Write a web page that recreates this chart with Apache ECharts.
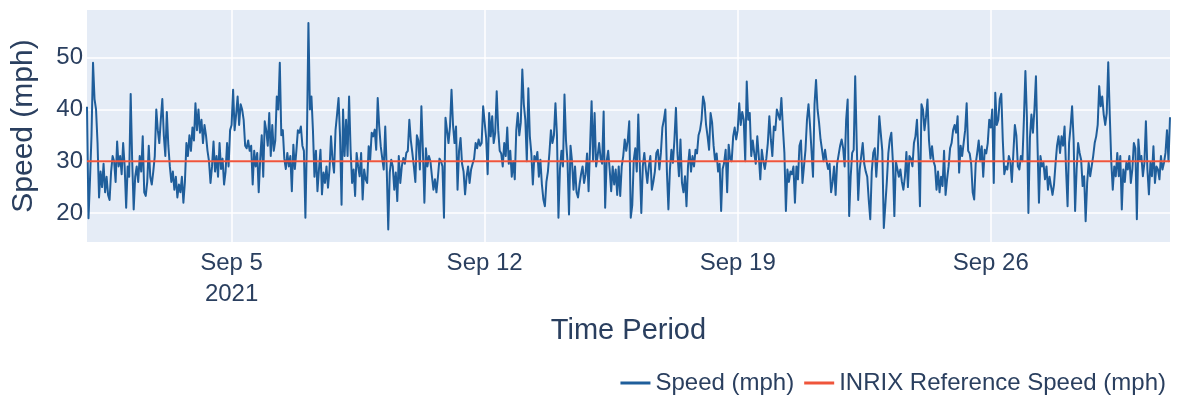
<!DOCTYPE html>
<html>
<head>
<meta charset="utf-8">
<script src="https://cdn.jsdelivr.net/npm/echarts@6/dist/echarts.min.js"></script>
<style>
html,body{margin:0;padding:0;background:#fff;}
#chart{width:1177px;height:402px;}
</style>
</head>
<body>
<div id="chart"></div>
<script>
// Hourly speed (mph), Sep 1 2021 00:00 onward
const speedA = [
40.5,19,26.5,35,49,42,40,33.5,23,28,
25,29.5,24,27,23.5,22.5,28,31,30,26,
33.8,29,31,27.5,33.5,29,21,29,27,43,
30,20.7,27,29,26,31,28,34.8,24,23.3,
26,33,27,25.5,28,31,40,36,33.5,38,
42,35,31,39.5,33,29,26,28,24.5,27,
23,25.5,24,27,22,26,33.5,31,35,32,
36.5,34,41.2,36,40,35.5,38,33.5,37,35,
32,30,25.8,29,33.8,28,31,27,33.5,28.5,
30.5,25.5,28,33.5,29,36,37,43.8,36,39,
42.5,37,41,40,38,33];
const speedB = [
32.5,34,32,33,25.5,32,29,31.6,24,30.5,
35,27,37.7,36,33,39.3,31,37,32,34,
42.5,40,49,35,36,30.5,28.5,31.6,29,31,
24.2,33.2,28.5,32,36,35.5,36.7,33,32,19.1,
34,56.7,40,42.5,36,27,32,24.2,28.4,32.2,
23.6,27.8,25.8,29,24.9,28.4,34.8,30.3,27.8,36,
39,42.2,34.8,21.6,40,31,38,31,42.5,32.2,
25.8,28.4,23.3,31.6,29,27.1,31.6,22.6,28.4,26.5,
25.8,32.9,30.3,35.5,34.8,36.1,32.2,42.2,36.7,32.9,
30.6,28.4,36.7,28.4,16.8,27.8,30.3,29,24.5,27.8,
22.3,31,25.8,29];
const speedC = [
30.6,29.5,31.6,32,38,34,31.6,29,26,35,
34,28.4,40.6,32,22,32.5,29,31,30,27.1,
24.5,26.5,24,27,30.5,30,29,19.1,38.4,36,
33.5,36.7,43.8,37,33.5,36.7,24.5,32,34.5,29.5,
28,23.6,27,29,25.8,28.4,29.5,30.5,33.5,32.5,
34.2,33,33.5,40.6,37.5,34.5,27.5,39.3,34.8,38.7,
33.5,35.5,43.5,36,32,31.5,29,33.5,31,36.5,
29.5,32,27,30,26.5,36,39.3,35,37.5,47.7,
41,38,30,44.1,34.8,31.5,25.5,31,30,31.8,
27,30.3,25.5,22.6,21.3,26,28,31.6,36,33.5,
35,41.2,35];
const speedD = [
19.1,28.5,32,29,42.9,34,30,19.7,33,30,
24.5,29,24,23,25.5,27.5,29,25.8,27.5,31.5,
24.2,33,41.6,30,39.3,29,31,33.5,30.5,29.5,
39.6,21,30,32,28.4,24.2,29,25.5,28.4,23.5,
29,23.3,29,31,34.2,32,34,37.7,19.1,21.5,
30.3,32.5,28,39,29.5,20,29,31.6,28.4,25.8,
29,31,24.5,26,28,31.6,32.2,28.4,31.6,36.5,
38,40,28,20.7,28.4,32.2,29.7,34.2,40.3,31.6,
27.1,34.2,25.8,24,27.1,21.3,29,32.2,28,31,
29,32.2,31.5,35,36,38,42.5,41.2,37,34.8,
32.2,39.3,37.5];
const speedE = [
33,30,31.5,28,29.5,20.4,28.5,29.7,32.2,24,
33.2,30.5,30,34.8,36.5,34.2,36,41.2,37,39.5,
38,30,45.4,38,39.3,31,34,31.5,29.5,34.8,
31,26.5,32.2,30,28.5,30.5,33.5,38.7,34.2,31,
36.7,36,40,39,38,42.2,36.5,31.6,20.4,28.4,
26,28,27.5,29,22,29,26.5,33,34,25.8,
29,32.2,38,41,37,32,27,41,45.7,40,
37.5,34.2,32.2,30,32.2,30,28.5,29.5,24,26,
29,23.5,29.5,29.5,33,34.2,32.5,29,38,41.9,
19.4,27,31.6,32.2,46.4,33.5,22.5,28.4,31,33.5,
29.5,28,27,22.5,18.8];
const speedF = [
28,31.6,32.5,27,31.5,38.7,38.5,32,17.1,21.5,
26,31.5,34.2,35.5,30,19.4,30,28.5,27,28.4,
26,24.5,27,31.8,25,31,30.5,29,33.5,34.8,
38,31.5,21.3,41,40,36,38.5,41.9,34,30.5,
32.9,30,29,24.5,28,24,27,25.2,32,23.5,
26.5,29,32.5,33.5,36,37,35.5,38.7,27.8,33,
31,33.5,36,41.2,32,31.5,29.5,24,22.6,29.5,
31.6,34,30,32.9,27,32.2,31.5,33.5,38,36.5,
40,25.8,43.2,37,38,42,43,34,27.5,29,
28.4,31,30,26,31.5,37,35,29,28.4,31];
const speedG = [
30,38,47.4,38.5,20,34.5,39,35.5,40,46.4,
33.5,22,31,29,29.7,26.5,29,24.5,27,25.2,
23.5,25.5,29.5,33,34.8,31.6,34.8,33,36.7,28.4,
21.3,33.5,36.7,40.6,34.2,20.4,28.4,33.5,31.6,30.3,
25.2,27.1,18.4,25.8,29.7,27.1,29,31,33.5,34.8,
37,44.5,40.6,42.5,39,37,39.3,49.1,39,30,
24.5,29,27.1,31.6,27.1,31,20.7,28.4,26,29.7,
28.4,31,25.8,28.4,33.5,32.5,18.8,34.2,30.3,31,
27.1,29.7,37.7,28.4,23.6,29.7,27.1,32.9,25.8,29,
28.4,26.5,31,28.4,29.7,31.6,36,30,38.5];

const referenceSpeed = 30;               // INRIX reference speed (mph)
const seriesNames = ['Speed (mph)', 'INRIX Reference Speed (mph)'];
const xTickDates = [[2021, 8, 5], [2021, 8, 12], [2021, 8, 19], [2021, 8, 26]];
const xTickLabels = ['Sep 5\n2021', 'Sep 12', 'Sep 19', 'Sep 26'];
const yTickValues = [20, 30, 40, 50];

const HOUR = 3600000;
const startTime = Date.UTC(2021, 8, 1, 0);
const speed = [].concat(speedA, speedB, speedC, speedD, speedE, speedF, speedG);
const speedData = speed.map((v, i) => [startTime + i * HOUR, v]);
const endTime = startTime + (speed.length - 1) * HOUR;
const refData = [[startTime, referenceSpeed], [endTime, referenceSpeed]];
const xTickValues = xTickDates.map(d => Date.UTC(d[0], d[1], d[2]));

const FONT = '"Liberation Sans", Arial, sans-serif';
const TXT = '#2a3f5f';

const chart = echarts.init(document.getElementById('chart'), null, {renderer: 'canvas'});
chart.setOption({
  animation: false,
  backgroundColor: '#ffffff',
  textStyle: {fontFamily: FONT, color: TXT},
  grid: {
    left: 87, right: 7, top: 10, bottom: 160,
    show: true, backgroundColor: '#E5ECF6', borderWidth: 0
  },
  legend: {
    data: seriesNames.map(n => ({name: n})),
    right: 11, top: 371, padding: 0,
    itemGap: 10, itemWidth: 30, itemHeight: 3,
    icon: 'rect',
    textStyle: {fontSize: 24, color: TXT, fontFamily: FONT}
  },
  xAxis: {
    type: 'value',
    min: startTime, max: endTime,
    name: 'Time Period', nameLocation: 'middle', nameGap: 74,
    nameTextStyle: {fontSize: 29, color: TXT, fontFamily: FONT},
    axisLine: {show: false},
    axisTick: {show: false, customValues: xTickValues},
    axisLabel: {
      customValues: xTickValues,
      fontSize: 24, color: TXT, fontFamily: FONT, margin: 6, lineHeight: 31,
      formatter: function (val) {
        const i = xTickValues.indexOf(val);
        return i >= 0 ? xTickLabels[i] : '';
      }
    },
    splitLine: {show: true, lineStyle: {color: '#ffffff', width: 1.5}}
  },
  yAxis: {
    type: 'value',
    min: 14.4, max: 59.2,
    name: 'Speed (mph)', nameLocation: 'middle', nameGap: 48,
    nameTextStyle: {fontSize: 30, color: TXT, fontFamily: FONT},
    axisLine: {show: false},
    axisTick: {show: false, customValues: yTickValues},
    axisLabel: {customValues: yTickValues, fontSize: 24, color: TXT, fontFamily: FONT, margin: 4},
    splitLine: {show: true, lineStyle: {color: '#ffffff', width: 1.5}}
  },
  series: [
    {
      name: seriesNames[0], type: 'line', data: speedData,
      showSymbol: false, symbol: 'none', sampling: 'none',
      color: '#1f5e9b',
      lineStyle: {width: 2, color: '#1f5e9b', join: 'round'},
      emphasis: {disabled: true}
    },
    {
      name: seriesNames[1], type: 'line', data: refData,
      showSymbol: false, symbol: 'none',
      color: '#EF553B',
      lineStyle: {width: 2, color: '#EF553B'},
      emphasis: {disabled: true}
    }
  ]
});
</script>
</body>
</html>
